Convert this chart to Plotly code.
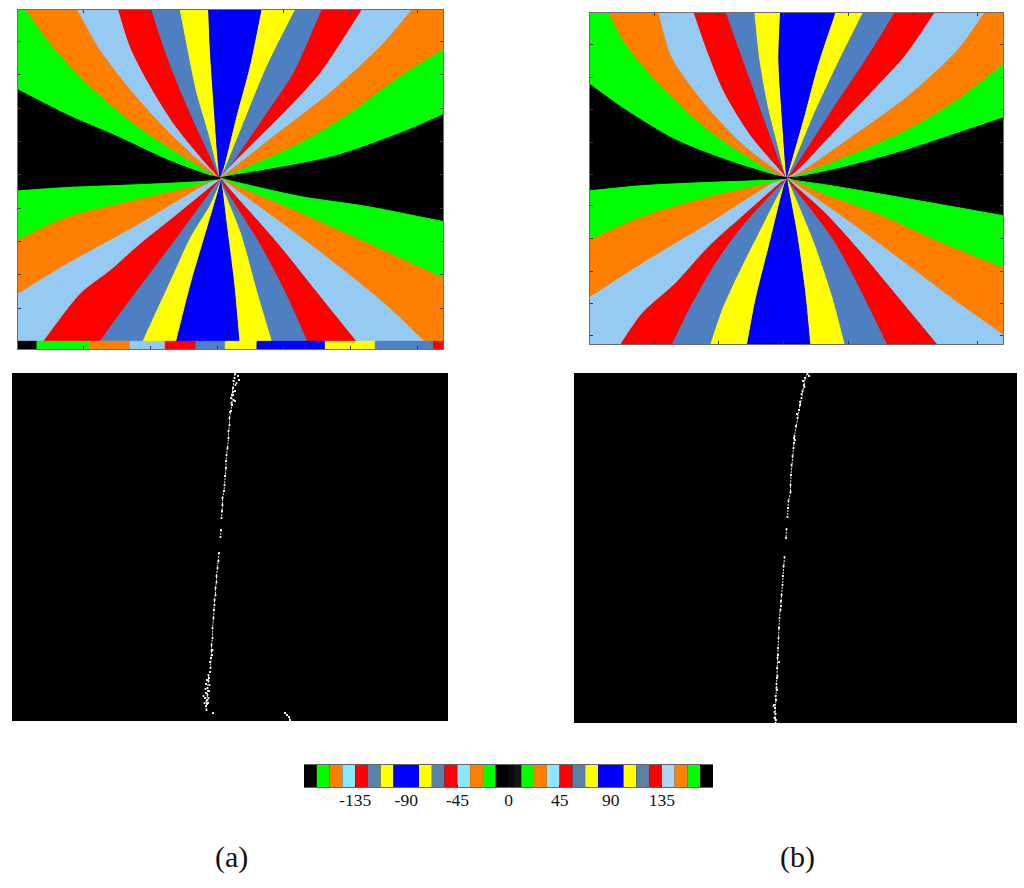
from math import atan2, pi
import plotly.graph_objects as go

# in the crop units of each panel
GREEN, ORANGE, SKY, RED, STEEL, YELLOW, BLUE, BLACK = (
    "#00ff00", "#ff8000", "#95caf3", "#ff0000", "#4e80c1", "#ffff00", "#0000ff", "#000000")

wedge_colors = [GREEN, ORANGE, SKY, RED, STEEL, YELLOW, BLUE, YELLOW, STEEL, RED, SKY, ORANGE, GREEN, BLACK] * 2

center_a = (660, 535)
fan_a_upper = [
    [(53, 270), (200, 345), (350, 410), (500, 480), (620, 525)],
    [(78, 30), (150, 130), (250, 240), (400, 370), (550, 470), (630, 518)],
    [(232, 30), (300, 150), (400, 280), (500, 390), (600, 485)],
    [(355, 30), (390, 140), (440, 240), (520, 370), (600, 470), (640, 515)],
    [(455, 30), (480, 110), (520, 220), (570, 340), (630, 470)],
    [(540, 30), (565, 160), (590, 280), (625, 400), (650, 500)],
    [(625, 30), (630, 150), (640, 300), (655, 500)],
    [(785, 30), (750, 200), (710, 350), (670, 510)],
    [(885, 30), (800, 200), (730, 370), (672, 512)],
    [(965, 30), (880, 220), (800, 340), (690, 500)],
    [(1085, 30), (960, 220), (850, 340), (700, 490)],
    [(1235, 30), (1150, 130), (1000, 270), (820, 410), (680, 520)],
    [(1328, 150), (1200, 230), (1050, 340), (900, 430), (700, 520)],
    [(1328, 345), (1200, 400), (1000, 470), (800, 510), (680, 530)],
]
fan_a_lower = [
    [(1328, 665), (1100, 620), (900, 590), (700, 545)],
    [(1328, 835), (1100, 730), (900, 640), (700, 555)],
    [(1295, 1048), (1150, 910), (950, 750), (700, 565)],
    [(1085, 1048), (950, 880), (830, 730), (680, 560)],
    [(930, 1048), (850, 870), (770, 720), (670, 560)],
    [(820, 1048), (770, 880), (720, 700), (665, 560)],
    [(718, 1048), (700, 850), (680, 690), (664, 560)],
    [(520, 1048), (570, 850), (620, 680), (655, 560)],
    [(415, 1048), (450, 970), (510, 840), (570, 710), (625, 620), (652, 560)],
    [(280, 1048), (350, 950), (440, 830), (530, 710), (640, 560)],
    [(110, 1048), (240, 880), (330, 810), (420, 730), (520, 650), (630, 560)],
    [(53, 880), (200, 790), (400, 680), (620, 550)],
    [(53, 718), (200, 650), (400, 600), (630, 545)],
    [(53, 570), (200, 560), (400, 552), (630, 540)],
]
ticks_a_x = [250, 450, 650, 850, 1050, 1250]
ticks_a_y = [125, 225, 325, 425, 525, 625, 725, 825, 925]

strip_edges = [53, 110, 270, 390, 495, 587, 675, 770, 975, 1125, 1300, 1328]
strip_colors = [BLACK, GREEN, ORANGE, SKY, RED, STEEL, YELLOW, BLUE, YELLOW, STEEL, RED]

center_b = (637, 535)
fan_b_upper = [
    [(45, 255), (150, 330), (300, 420), (450, 480), (600, 527)],
    [(102, 40), (150, 130), (250, 250), (400, 390), (600, 520)],
    [(252, 40), (290, 170), (380, 300), (500, 430), (610, 515)],
    [(358, 40), (400, 160), (450, 280), (530, 410), (620, 515)],
    [(455, 40), (490, 140), (530, 250), (580, 390), (625, 510)],
    [(540, 40), (555, 180), (580, 320), (610, 440), (632, 525)],
    [(617, 40), (612, 180), (622, 350), (635, 525)],
    [(783, 40), (730, 200), (690, 350), (640, 525)],
    [(865, 40), (790, 190), (720, 340), (645, 520)],
    [(960, 40), (880, 170), (780, 320), (650, 520)],
    [(1080, 40), (990, 170), (850, 320), (660, 520)],
    [(1230, 40), (1150, 150), (1000, 290), (820, 420), (665, 525)],
    [(1285, 195), (1150, 300), (1000, 390), (820, 470), (670, 528)],
    [(1285, 355), (1150, 400), (1000, 450), (820, 500), (670, 532)],
]
fan_b_lower = [
    [(1285, 648), (1100, 615), (900, 580), (750, 555), (650, 540)],
    [(1285, 805), (1100, 730), (900, 640), (750, 585), (650, 540)],
    [(1285, 1005), (1150, 910), (950, 760), (800, 650), (650, 545)],
    [(1085, 1033), (950, 870), (850, 750), (750, 640), (645, 545)],
    [(935, 1033), (850, 860), (780, 730), (700, 620), (640, 545)],
    [(808, 1033), (770, 890), (720, 740), (680, 640), (640, 545)],
    [(705, 1033), (690, 880), (665, 700), (637, 545)],
    [(515, 1033), (540, 900), (580, 740), (630, 545)],
    [(405, 1033), (440, 930), (490, 820), (550, 700), (630, 545)],
    [(290, 1033), (340, 930), (420, 790), (500, 680), (625, 545)],
    [(135, 1033), (200, 940), (300, 850), (400, 740), (500, 650), (620, 545)],
    [(45, 890), (200, 790), (400, 670), (610, 540)],
    [(45, 718), (200, 650), (400, 590), (620, 540)],
    [(45, 570), (200, 555), (400, 545), (620, 537)],
]
ticks_b_x = [238, 430, 625, 820, 1015, 1208]
ticks_b_y = [133, 232, 330, 427, 525, 618, 717, 815, 912, 1008]

# wrapped phase difference, bright pixels along the 2 pi jump (None = gap in the line)
jump_c_x = [235, 234.5, 233.5, 233, 232, 232, 231, 229.5, 229.5, 228.5, 228.5, 227.5, 226.5, 226, 226, 225, 224.5,
            224, 222.5, 222.5, 222, 221.5, None, 221, 220.5, None, 219, 218.5, 217.5, 216.5, 216.5, 215.5, 215.5, 214.5, 214.5,
            214, 213.5, 212.5, 212.5, 211.5, 211.5, 211, 210.5, None, 208.5, 208.5, 207.5, 207.5, 206.5, 206, 206.5,
            None, 285, 287, 289, 290]
jump_c_y = [374, 378, 381, 388, 395, 405, 411, 418, 425, 431, 438, 448, 455, 461, 468, 476, 485,
            491, 498, 505, 511, 518, None, 530, 537, None, 553, 561, 568, 576, 582, 588, 595, 600, 605,
            610, 618, 628, 638, 645, 651, 658, 668, None, 675, 681, 688, 695, 701, 706, 710,
            None, 713, 715, 717, 720]
spots_c_x = [238, 239, 235.5, 235, 233.5, 231, 235, 233, 230, 212, 210, 212.5, 207, 209.5, 206, 208.5, 205, 204.5, 208, 207, 203.5,
             206, 209, 213, 236.5, 233, 231.5, 209, 207.5, 210, 205.5]
spots_c_y = [376, 380, 385, 391, 400, 398, 401, 395, 412, 655, 662, 650, 680, 685, 693, 698, 698, 703, 703, 704, 696,
             684, 691, 713, 383, 392, 403, 678, 700, 672, 689]
jump_d_x = [807.5, 805, 804, 802.5, 801.5, 800, 799, 797.5, 796, 794.5, 794, 793.5, 792.5, 791.5, 791, 790.5,
            790.5, 788.5, 788, 787.5, None, 786.5, 786, None, 784.5, 783.5, 783, 782.5, 781.5, 781, 781,
            780.5, 779.5, 779, 778.5, 778, 777.5, 777, 777, 776.5, 775.5, 775, 775, 775.5]
jump_d_y = [374, 378, 385, 391, 398, 405, 410, 418, 426, 436, 443, 448, 456, 465, 475, 485,
            492, 501, 508, 517, None, 529, 538, None, 557, 566, 576, 585, 595, 601, 606,
            610, 618, 628, 638, 648, 658, 668, 678, 688, 696, 708, 718, 723]
spots_d_x = [809, 803, 804.5, 800, 801.5, 797, 795, 794, 778, 777, 779, 776, 774, 774.5, 776.5, 777.5, 775.5, 773.5, 776, 774.5]
spots_d_y = [376, 381, 387, 402, 394, 414, 440, 438, 655, 690, 662, 700, 705, 712, 684, 676, 714, 706, 720, 718]

# colour bar, degrees
bar_edges = [-180, -168.75, -157.5, -146.25, -135, -123.75, -112.5, -101.25, -78.75, -67.5, -56.25, -45, -33.75, -22.5, -11.25,
             0, 5, 11.25, 22.5, 33.75, 45, 56.25, 67.5, 78.75, 101.25, 112.5, 123.75, 135, 146.25, 157.5, 168.75, 180]
bar_colors = [BLACK, "#00ff00", "#ff8000", "#8be8ff", "#ff0000", "#5a7fa8", "#ffff00", "#0000ff", "#ffff00", "#5a7fa8", "#ff0000",
              "#8be8ff", "#ff8000", "#00ff00", BLACK, "#0a0a0a", "#151515", "#00ff00", "#ff8000", "#8be8ff", "#ff0000", "#5a7fa8",
              "#ffff00", "#0000ff", "#ffff00", "#5a7fa8", "#ff0000", "#b0d4f5", "#ff8000", "#00ff00", BLACK]
bar_ticks = [-135, -90, -45, 0, 45, 90, 135]


def px_dom(lo, hi, total):
    return [lo / total, hi / total]


def add_fan(fig, bounds, center, frame, axes):
    # ends and corners are pushed past the frame, the axes clip them and the spline stays clean
    left, right, top, bottom = frame
    corners = [(left, top), (right, top), (right, bottom), (left, bottom)]
    ang = lambda p: atan2(p[1] - center[1], p[0] - center[0])
    out = lambda p, q: (2 * p[0] - q[0], 2 * p[1] - q[1])
    for i, color in enumerate(wedge_colors):
        a = bounds[i]
        b = bounds[(i + 1) % len(bounds)]
        start = ang(a[0])
        span = (ang(b[0]) - start) % (2 * pi)
        inside = [c for c in corners if (ang(c) - start) % (2 * pi) < span]
        inside.sort(key=lambda c: (ang(c) - start) % (2 * pi))
        inside = [(center[0] + 3 * (c[0] - center[0]), center[1] + 3 * (c[1] - center[1])) for c in inside]
        pts = [center] + a[::-1] + [out(a[0], a[1])] + inside + [out(b[0], b[1])] + b + [center]
        fig.add_trace(go.Scatter(x=[p[0] for p in pts], y=[p[1] for p in pts], mode="lines", fill="toself",
                                 fillcolor=color, line=dict(color=color, width=1, shape="spline", smoothing=0.8),
                                 xaxis=axes[0], yaxis=axes[1], hoverinfo="skip", showlegend=False))


fig = go.Figure()
add_fan(fig, fan_a_upper + fan_a_lower, center_a, (53, 1328, 30, 1048), ("x", "y"))
for j, color in enumerate(strip_colors):
    fig.add_trace(go.Scatter(x=[strip_edges[j], strip_edges[j + 1], strip_edges[j + 1], strip_edges[j], strip_edges[j]],
                             y=[1025, 1025, 1048, 1048, 1025], mode="lines", fill="toself", fillcolor=color,
                             line=dict(color=color, width=1), hoverinfo="skip", showlegend=False))
add_fan(fig, fan_b_upper + fan_b_lower, center_b, (45, 1285, 40, 1033), ("x2", "y2"))

for xs, ys, xs2, ys2, ax, ay in [(jump_c_x, jump_c_y, spots_c_x, spots_c_y, "x3", "y3"),
                                 (jump_d_x, jump_d_y, spots_d_x, spots_d_y, "x4", "y4")]:
    fig.add_trace(go.Scatter(x=xs, y=ys, mode="lines+markers", line=dict(color="#e8e8e8", width=1, dash="2px,1px"),
                             marker=dict(symbol="square", size=1.8, color="#ffffff", line_width=0),
                             xaxis=ax, yaxis=ay, hoverinfo="skip", showlegend=False))
    fig.add_trace(go.Scatter(x=xs2, y=ys2, mode="markers", marker=dict(symbol="square", size=1.8, color="#ffffff", line_width=0),
                             xaxis=ax, yaxis=ay, hoverinfo="skip", showlegend=False))

fig.add_trace(go.Bar(x=[(bar_edges[i] + bar_edges[i + 1]) / 2 for i in range(len(bar_colors))],
                     y=[1] * len(bar_colors),
                     width=[bar_edges[i + 1] - bar_edges[i] for i in range(len(bar_colors))],
                     marker=dict(color=bar_colors, line_width=0), xaxis="x5", yaxis="y5",
                     hoverinfo="skip", showlegend=False))


def frame_axis(lo, hi, dom, ticks, anchor, rev=False):
    return dict(range=[hi, lo] if rev else [lo, hi], domain=dom, anchor=anchor, tickvals=ticks, showticklabels=False, ticks="inside",
                ticklen=3, tickcolor="#3a3a3a", tickwidth=1, showline=True, linecolor="#6e6e6e", linewidth=1,
                mirror="ticks", showgrid=False, zeroline=False)


def blank_axis(lo, hi, dom, anchor, rev=False):
    return dict(range=[hi, lo] if rev else [lo, hi], domain=dom, anchor=anchor, visible=False)


W, H = 1024, 888
fig.update_layout(
    width=W, height=H, margin=dict(l=0, r=0, t=0, b=0), paper_bgcolor="#ffffff", plot_bgcolor="#000000",
    showlegend=False, barmode="overlay",
    xaxis=frame_axis(53, 1328, px_dom(18, 443, W), ticks_a_x, "y"),
    yaxis=frame_axis(30, 1048, px_dom(H - 349, H - 10, H), ticks_a_y, "x", rev=True),
    xaxis2=frame_axis(45, 1285, px_dom(590, 1003, W), ticks_b_x, "y2"),
    yaxis2=frame_axis(40, 1033, px_dom(H - 344, H - 13, H), ticks_b_y, "x2", rev=True),
    xaxis3=blank_axis(12, 448, px_dom(12, 448, W), "y3"),
    yaxis3=blank_axis(373, 721, px_dom(H - 721, H - 373, H), "x3", rev=True),
    xaxis4=blank_axis(574, 1017, px_dom(574, 1017, W), "y4"),
    yaxis4=blank_axis(373, 723, px_dom(H - 723, H - 373, H), "x4", rev=True),
    xaxis5=dict(range=[-180, 180], domain=px_dom(304, 713, W), anchor="y5", tickvals=bar_ticks, ticktext=[str(t) for t in bar_ticks],
                ticks="inside", ticklen=2, tickcolor="#222222", showline=True, linecolor="#666666", linewidth=1, mirror=True,
                ticklabelstandoff=-3, showgrid=False, zeroline=False,
                tickfont=dict(family="Liberation Serif", size=17.5, color="#111111")),
    yaxis5=dict(range=[0, 1], domain=px_dom(H - 787, H - 765, H), anchor="x5", visible=False),
    annotations=[
        dict(text="(a)", x=231 / W, y=1 - 857 / H, xref="paper", yref="paper", xanchor="center", yanchor="middle", showarrow=False,
             font=dict(family="Liberation Serif", size=30, color="#111111")),
        dict(text="(b)", x=797 / W, y=1 - 857 / H, xref="paper", yref="paper", xanchor="center", yanchor="middle", showarrow=False,
             font=dict(family="Liberation Serif", size=30, color="#111111")),
    ],
)

fig.write_html("out.html", config=dict(displayModeBar=False),
               post_script="document.body.style.margin='0';document.body.style.overflow='hidden';")
